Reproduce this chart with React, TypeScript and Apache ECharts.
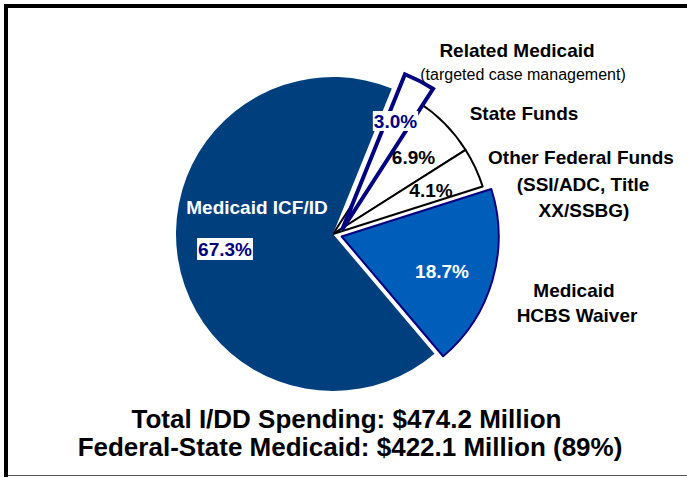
import React, { useEffect, useRef } from 'react';
import * as echarts from 'echarts';

// ---- data ----
const categories = [
  'Related Medicaid',
  'State Funds',
  'Other Federal Funds',
  'Medicaid HCBS Waiver',
  'Medicaid ICF/ID',
];
const shares = [3.0, 6.9, 4.1, 18.7, 67.3];
const outerLabelLines = [
  ['Related Medicaid', '(targeted case management)'],
  ['State Funds'],
  ['Other Federal Funds', '(SSI/ADC, Title', 'XX/SSBG)'],
  ['Medicaid', 'HCBS Waiver'],
  ['Medicaid ICF/ID'],
];
const summaryLines = [
  'Total I/DD Spending: $474.2 Million',
  'Federal-State Medicaid: $422.1 Million (89%)',
];

// ---- layout / styles ----
const FONT = '"Liberation Sans", Arial, Helvetica, sans-serif';
const NAVY = '#000080';
const sliceStyles: any[] = [
  { color: '#FFFFFF', borderColor: NAVY, borderWidth: 4, borderJoin: 'miter' },
  { color: '#FFFFFF', borderColor: '#000000', borderWidth: 2 },
  { color: '#FFFFFF', borderColor: '#000000', borderWidth: 2 },
  { color: '#005EBB', borderColor: NAVY, borderWidth: 2 },
  { color: '#003F7D', borderWidth: 0 },
];
// label positions: each line [x, y]
const outerLabelPos: number[][][] = [
  [[517, 50], [523, 74]],
  [[524, 113]],
  [[581, 157.5], [583, 184.5], [584, 210.5]],
  [[574, 290.5], [577, 315.5]],
  [[257, 207]],
];
const pctPos = [
  [395.5, 121],
  [413.5, 157.5],
  [431, 190],
  [442, 271.5],
  [225, 249],
];
const pctStyle: any[] = [
  { fill: NAVY, backgroundColor: '#FFFFFF', padding: [1, 1, 0, 1] },
  { fill: '#000000' },
  { fill: '#000000' },
  { fill: '#FFFFFF' },
  { fill: NAVY, backgroundColor: '#FFFFFF', padding: [2, 1, 1, 1] },
];
const outerLabelColor = ['#000000', '#000000', '#000000', '#000000', '#FFFFFF'];
const summaryPos = [
  [346.5, 418.5],
  [350, 447],
];
const START_ANGLE = 68;

export default function App() {
  const ref = useRef<HTMLDivElement>(null);

  useEffect(() => {
    document.body.style.margin = '0';
    const chart = echarts.init(ref.current!, null, { renderer: 'svg' });

    const pct = (v: number) => `${v.toFixed(1)}%`;

    const mainData = categories.map((name, i) => ({
      name,
      value: shares[i],
      selected: i === 3,
      itemStyle: i === 0 ? { opacity: 0 } : sliceStyles[i],
    }));
    const relatedData = categories.map((name, i) => ({
      name,
      value: shares[i],
      itemStyle: i === 0 ? sliceStyles[0] : { opacity: 0 },
    }));

    const graphic: any[] = [
      // frame
      { type: 'rect', z: 100, shape: { x: 4, y: 4, width: 700, height: 4 }, style: { fill: '#000' } },
      { type: 'rect', z: 100, shape: { x: 4, y: 4, width: 4, height: 473 }, style: { fill: '#000' } },
      { type: 'rect', z: 100, shape: { x: 8, y: 475, width: 690, height: 1 }, style: { fill: '#555' } },
    ];

    outerLabelLines.forEach((lines, i) => {
      lines.forEach((t, j) => {
        const isSub = i === 0 && j === 1;
        graphic.push({
          type: 'text',
          z: 100,
          x: outerLabelPos[i][j][0],
          y: outerLabelPos[i][j][1],
          style: {
            text: t,
            fill: outerLabelColor[i],
            font: `${isSub ? 'normal 16px' : 'bold 19px'} ${FONT}`,
            align: 'center',
            verticalAlign: 'middle',
          },
        });
      });
    });

    shares.forEach((v, i) => {
      graphic.push({
        type: 'text',
        z: 101,
        x: pctPos[i][0],
        y: pctPos[i][1],
        style: {
          text: pct(v),
          font: `bold 19px ${FONT}`,
          align: 'center',
          verticalAlign: 'middle',
          ...pctStyle[i],
        },
      });
    });

    summaryLines.forEach((t, i) => {
      graphic.push({
        type: 'text',
        z: 100,
        x: summaryPos[i][0],
        y: summaryPos[i][1],
        style: {
          text: t,
          fill: '#000',
          font: `bold 26px ${FONT}`,
          align: 'center',
          verticalAlign: 'middle',
        },
      });
    });

    chart.setOption({
      animation: false,
      backgroundColor: '#FFFFFF',
      series: [
        {
          type: 'pie',
          center: [333, 234],
          radius: [0, 157],
          startAngle: START_ANGLE,
          clockwise: true,
          selectedMode: 'multiple',
          selectedOffset: 9,
          label: { show: false },
          labelLine: { show: false },
          emphasis: { disabled: true },
          z: 2,
          data: mainData,
        },
        {
          type: 'pie',
          center: [342, 230],
          radius: [0, 168],
          startAngle: START_ANGLE,
          clockwise: true,
          label: { show: false },
          labelLine: { show: false },
          emphasis: { disabled: true },
          z: 3,
          data: relatedData,
        },
      ],
      graphic,
    });

    return () => chart.dispose();
  }, []);

  return <div ref={ref} style={{ width: 687, height: 478 }} />;
}
